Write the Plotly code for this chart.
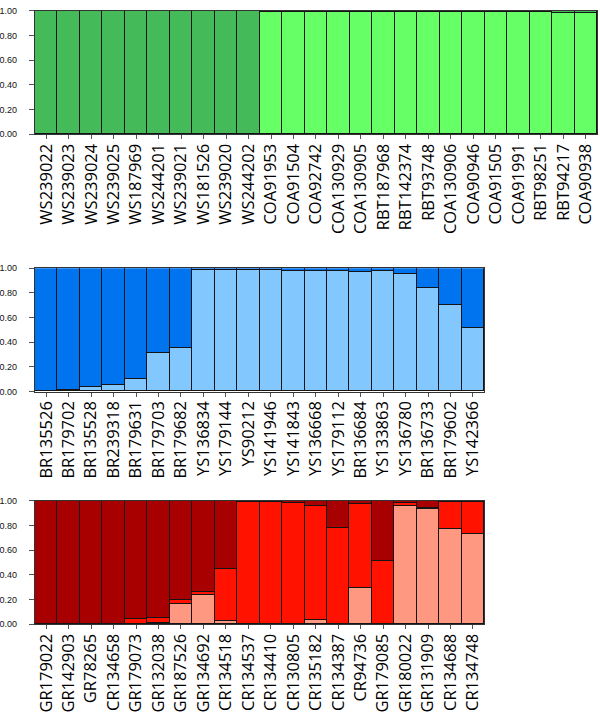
import plotly.graph_objects as go

# ---------------- data ----------------
green_labels = ["WS239022", "WS239023", "WS239024", "WS239025", "WS187969", "WS244201",
                "WS239021", "WS181526", "WS239020", "WS244202", "COA91953", "COA91504",
                "COA92742", "COA130929", "COA130905", "RBT187968", "RBT142374", "RBT93748",
                "COA130906", "COA90946", "COA91505", "COA91991", "RBT98251", "RBT94217",
                "COA90938"]
green_light = [0.0, 0.0, 0.0, 0.0, 0.0, 0.0, 0.0, 0.0, 0.0, 0.0,
               0.99, 0.99, 0.99, 0.99, 0.99, 0.99, 0.99, 0.99, 0.99, 0.99,
               0.99, 0.99, 0.99, 0.98, 0.98]
green_dark = [1.0, 1.0, 1.0, 1.0, 1.0, 1.0, 1.0, 1.0, 1.0, 1.0,
              0.01, 0.01, 0.01, 0.01, 0.01, 0.01, 0.01, 0.01, 0.01, 0.01,
              0.01, 0.01, 0.01, 0.02, 0.02]

blue_labels = ["BR135526", "BR179702", "BR135528", "BR239318", "BR179631", "BR179703",
               "BR179682", "YS136834", "YS179144", "YS90212", "YS141946", "YS141843",
               "YS136668", "YS179112", "BR136684", "YS133863", "YS136780", "BR136733",
               "BR179602", "YS142366"]
blue_light = [0.0, 0.01, 0.035, 0.048, 0.097, 0.313, 0.355, 0.984, 0.984, 0.984,
              0.984, 0.976, 0.976, 0.979, 0.970, 0.973, 0.955, 0.836, 0.703, 0.512]
blue_dark = [1.0, 0.99, 0.965, 0.952, 0.903, 0.687, 0.645, 0.016, 0.016, 0.016,
             0.016, 0.024, 0.024, 0.021, 0.030, 0.027, 0.045, 0.164, 0.297, 0.488]

red_labels = ["GR179022", "GR142903", "GR78265", "CR134658", "GR179073", "GR132038",
              "GR187526", "GR134692", "CR134518", "CR134537", "CR134410", "CR130805",
              "CR135182", "CR134387", "CR94736", "GR179085", "GR180022", "GR131909",
              "CR134688", "CR134748"]
red_salmon = [0.0, 0.0, 0.0, 0.0, 0.005, 0.01, 0.167, 0.239, 0.024, 0.0,
              0.005, 0.005, 0.034, 0.0, 0.292, 0.005, 0.963, 0.934, 0.769, 0.729]
red_mid = [0.0, 0.0, 0.0, 0.0, 0.035, 0.038, 0.029, 0.021, 0.422, 0.995,
           0.99, 0.979, 0.929, 0.777, 0.684, 0.512, 0.018, 0.008, 0.226, 0.266]
red_dark = [1.0, 1.0, 1.0, 1.0, 0.96, 0.952, 0.804, 0.74, 0.554, 0.005,
            0.005, 0.016, 0.037, 0.223, 0.024, 0.483, 0.019, 0.058, 0.005, 0.005]

y_ticks = [0.0, 0.2, 0.4, 0.6, 0.8, 1.0]

# ---------------- colours ----------------
C_GREEN_DARK = "#44BB58"
C_GREEN_LIGHT = "#66FF66"
C_BLUE_DARK = "#0073EE"
C_BLUE_LIGHT = "#82C8FF"
C_RED_DARK = "#A80000"
C_RED_MID = "#FF1200"
C_RED_SALMON = "#FF9880"
OUTLINE = "#141414"

fig = go.Figure()


def add_bar(x, y, color, xa, ya):
    fig.add_trace(go.Bar(
        x=x, y=y, xaxis=xa, yaxis=ya,
        marker=dict(color=color, line=dict(color=OUTLINE, width=1.2)),
        showlegend=False, hoverinfo="x+y",
    ))


add_bar(green_labels, green_light, C_GREEN_LIGHT, "x", "y")
add_bar(green_labels, green_dark, C_GREEN_DARK, "x", "y")
add_bar(blue_labels, blue_light, C_BLUE_LIGHT, "x2", "y2")
add_bar(blue_labels, blue_dark, C_BLUE_DARK, "x2", "y2")
add_bar(red_labels, red_salmon, C_RED_SALMON, "x3", "y3")
add_bar(red_labels, red_mid, C_RED_MID, "x3", "y3")
add_bar(red_labels, red_dark, C_RED_DARK, "x3", "y3")

W, H = 600, 716


def xdom(x0, x1):
    return [x0 / W, x1 / W]


def ydom(top, bottom):
    return [1 - bottom / H, 1 - top / H]


xfont = dict(family="Open Sans, DejaVu Sans, sans-serif", size=16.5, color="#000000")
yfont = dict(family="Liberation Sans, Arial, sans-serif", size=9, color="#111111")

common_x = dict(type="category", showgrid=False, showline=True, linecolor="#333333",
                linewidth=1, mirror=True, ticks="outside", ticklen=4, tickcolor="#555555",
                tickangle=-90, tickfont=xfont, zeroline=False, fixedrange=True,
                ticklabelstandoff=-2)
common_y = dict(range=[0, 1], tickvals=y_ticks, tickformat=".2f", showgrid=False,
                showline=True, linecolor="#333333", linewidth=1, mirror=True,
                ticks="outside", ticklen=5, tickcolor="#555555", tickfont=yfont,
                zeroline=False, fixedrange=True, ticklabelstandoff=10)

fig.update_layout(
    width=W, height=H, autosize=False,
    margin=dict(l=0, r=0, t=0, b=0),
    paper_bgcolor="white", plot_bgcolor="white",
    barmode="stack", bargap=0,
    xaxis=dict(common_x, domain=xdom(34, 597), anchor="y", range=[-0.5, len(green_labels) - 0.5]),
    yaxis=dict(common_y, domain=ydom(6, 131), anchor="x"),
    xaxis2=dict(common_x, domain=xdom(34, 484), anchor="y2", range=[-0.5, len(blue_labels) - 0.5]),
    yaxis2=dict(common_y, domain=ydom(267, 392), anchor="x2"),
    xaxis3=dict(common_x, domain=xdom(34, 484), anchor="y3", range=[-0.5, len(red_labels) - 0.5]),
    yaxis3=dict(common_y, domain=ydom(503, 628), anchor="x3"),
)

fig.write_html("out.html", config={"displayModeBar": False},
               post_script="document.body.style.margin='0';")
